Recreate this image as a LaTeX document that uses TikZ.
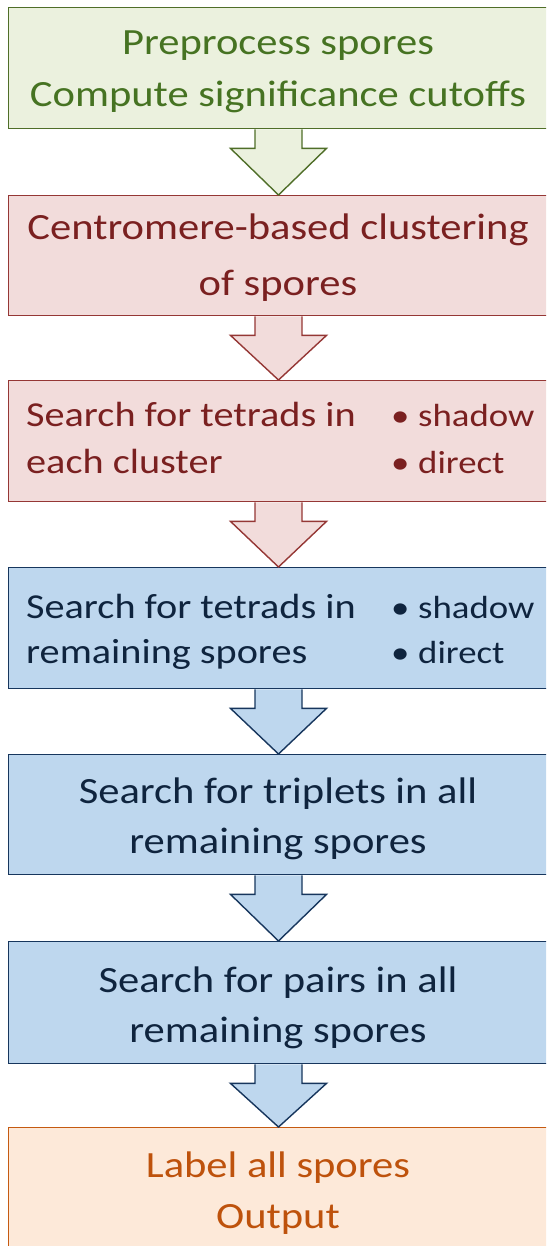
\documentclass[tikz,border=0pt]{standalone}
\usepackage{fontspec}
\setmainfont{Carlito}[FakeStretch=1.15]
\usetikzlibrary{calc}
\definecolor{gfill}{RGB}{235,241,222}
\definecolor{gline}{RGB}{79,110,40}
\definecolor{gtext}{RGB}{70,115,34}
\definecolor{rfill}{RGB}{242,220,219}
\definecolor{rline}{RGB}{149,55,53}
\definecolor{rtext}{RGB}{122,32,32}
\definecolor{bfill}{RGB}{190,215,238}
\definecolor{bline}{RGB}{23,54,93}
\definecolor{btext}{RGB}{15,36,62}
\definecolor{ofill}{RGB}{253,233,217}
\definecolor{oline}{RGB}{197,90,17}
\definecolor{otext}{RGB}{190,82,12}
\tikzset{
  boxshape/.style={draw, line width=1.4pt, rectangle, anchor=north west, minimum width=560pt, inner sep=0pt},
  gbox/.style={boxshape, draw=gline, fill=gfill},
  rbox/.style={boxshape, draw=rline, fill=rfill},
  bbox/.style={boxshape, draw=bline, fill=bfill},
  obox/.style={boxshape, draw=oline, fill=ofill},
  txt/.style={font=\fontsize{37}{42}\selectfont, inner sep=0pt, anchor=base},
  txtl/.style={font=\fontsize{35}{40}\selectfont, inner sep=0pt, anchor=base west},
  bul/.style={font=\fontsize{32}{38}\selectfont, inner sep=0pt, anchor=base west},
  barrow/.style={line width=1.4pt, line join=miter},
}
\begin{document}
\begin{tikzpicture}[x=1pt,y=-1pt]
\useasboundingbox (0,0) rectangle (546,1246);
\clip (0,0) rectangle (546,1246);
\fill[white] (0,0) rectangle (546,1246);
% boxes
\node[gbox, minimum height=121pt] (b1) at (8,7) {};
\node[rbox, minimum height=120pt] (b2) at (8,195) {};
\node[rbox, minimum height=121pt] (b3) at (8,380) {};
\node[bbox, minimum height=121pt] (b4) at (8,567) {};
\node[bbox, minimum height=120pt] (b5) at (8,754) {};
\node[bbox, minimum height=122pt] (b6) at (8,941) {};
\node[obox, minimum height=140pt] (b7) at (8,1127) {};
% arrows
\foreach \a/\b/\f/\l in {b1/b2/gfill/gline, b2/b3/rfill/rline, b3/b4/rfill/rline, b4/b5/bfill/bline, b5/b6/bfill/bline, b6/b7/bfill/bline}{
  \path (\a.south) coordinate (top) (\b.north) coordinate (bot);
  \filldraw[barrow, fill=\f, draw=\l]
    (255,0 |- top) -- ($(255,0 |- top)+(0,19)$) -- ($(230.5,0 |- top)+(0,19)$)
    -- (278.5,0 |- bot) -- ($(326.5,0 |- top)+(0,19)$) -- ($(302,0 |- top)+(0,19)$) -- (302,0 |- top);
}
% texts
\node[txt, text=gtext] (t1a) at (278,55) {Preprocess spores};
\node[txt, text=gtext] (t1b) at (278,107) {Compute significance cutoffs};
\node[txt, text=rtext] (t2a) at (278,240) {Centromere-based clustering};
\node[txt, text=rtext] (t2b) at (278,295) {of spores};
\node[txtl, text=rtext] (t3a) at (26,426) {Search for tetrads in};
\node[txtl, text=rtext] (t3b) at (26,473) {each cluster};
\node[bul, text=rtext] (t3c) at (391,426) {\makebox[27pt][l]{•}shadow};
\node[bul, text=rtext] (t3d) at (391,473) {\makebox[27pt][l]{•}direct};
\node[txtl, text=btext] (t4a) at (26,618) {Search for tetrads in};
\node[txtl, text=btext] (t4b) at (26,663) {remaining spores};
\node[bul, text=btext] (t4c) at (391,618) {\makebox[27pt][l]{•}shadow};
\node[bul, text=btext] (t4d) at (391,663) {\makebox[27pt][l]{•}direct};
\node[txt, text=btext] (t5a) at (278,803) {Search for triplets in all};
\node[txt, text=btext] (t5b) at (278,853) {remaining spores};
\node[txt, text=btext] (t6a) at (278,992) {Search for pairs in all};
\node[txt, text=btext] (t6b) at (278,1042) {remaining spores};
\node[txt, text=otext] (t7a) at (278,1177) {Label all spores};
\node[txt, text=otext] (t7b) at (278,1228) {Output};
\end{tikzpicture}
\end{document}
